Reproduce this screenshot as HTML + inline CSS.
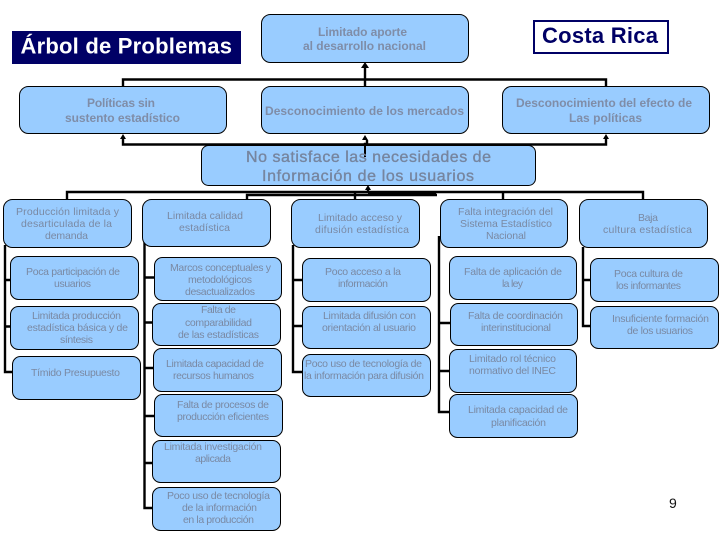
<!DOCTYPE html>
<html><head><meta charset="utf-8"><style>
html,body{margin:0;padding:0;background:#fff;width:720px;height:540px;overflow:hidden}
svg{display:block}
text{font-family:"Liberation Sans",sans-serif}
.s{font-size:10.5px;fill:#7a89a3}
.m{font-size:12px;font-weight:bold;fill:#7f8da8}
.l{font-size:16px;fill:#76859f;stroke:#76859f;stroke-width:.35}
.b rect{fill:#99ccff;stroke:#000;stroke-width:1}
.w path{fill:none;stroke:#000;stroke-width:2.4}
</style></head><body>
<svg width="720" height="540" viewBox="0 0 720 540" xmlns="http://www.w3.org/2000/svg">
<rect x="12" y="31" width="229" height="33" fill="#000066"/>
<text x="20.5" y="53.500" font-size="22" font-weight="bold" fill="#fff" textLength="211.5" lengthAdjust="spacing">Árbol de Problemas</text>
<rect x="534" y="21" width="134" height="32" fill="#fff" stroke="#000066" stroke-width="2"/>
<text x="542" y="43" font-size="22" font-weight="bold" fill="#000066" textLength="116" lengthAdjust="spacing">Costa Rica</text>

<g class="w">
<path d="M123 86V79.5H606V86"/>
<path d="M365 86V66" stroke-width="3"/>
<path d="M123 137V144.5H606V137"/>
<path d="M365 157V144H367V140"/>
<path d="M67 199V192H643V199"/>
<path d="M247 199V195H437"/>
<path d="M355 199V192"/>
<path d="M503 199V192"/>
<path d="M368 192V188"/>
<path d="M368 194H436" stroke-width="3.500"/>
<path d="M5 245V372H12M5 280H10M5 326.5H10"/>
<path d="M144.500 240V508H152M144.500 277.500H154M144.500 322.500H152M144.500 368H153M144.500 416H154M144.500 463H152"/>
<path d="M293 245V372H303M293 280H302M293 326H302"/>
<path d="M439 236V412H449M439 323H450M439 371H449"/>
<path d="M583 247V326H590M583 280H590"/>
</g>
<g fill="#000">
<path d="M365 62L361 68H369Z"/>
<path d="M123 134L120 139H126Z"/>
<path d="M365 135L362 140H368Z"/>
<path d="M606 134L603 139H609Z"/>
<path d="M368 185L365 190H371Z"/>
</g>

<g class="b">
<rect x="261.500" y="14.500" width="207" height="48" rx="9"/>
<rect x="19.500" y="86.500" width="207" height="47" rx="9"/>
<rect x="261.500" y="86.500" width="207" height="47" rx="9"/>
<rect x="502.500" y="86.500" width="207" height="47" rx="9"/>
<rect x="201.500" y="145.500" width="334" height="40" rx="7"/>
<rect x="3.500" y="199.500" width="128" height="48" rx="9"/>
<rect x="10.500" y="256.500" width="128" height="43" rx="8"/>
<rect x="10.500" y="306.500" width="128" height="43" rx="8"/>
<rect x="12.500" y="356.500" width="128" height="43" rx="8"/>
<rect x="142.500" y="199.500" width="128" height="47" rx="9"/>
<rect x="154.500" y="257.500" width="127" height="43" rx="8"/>
<rect x="152.500" y="303.500" width="128" height="42" rx="8"/>
<rect x="153.500" y="348.500" width="128" height="43" rx="8"/>
<rect x="154.500" y="394.500" width="128" height="42" rx="8"/>
<rect x="152.500" y="440.500" width="128" height="42" rx="8"/>
<rect x="152.500" y="487.500" width="128" height="43" rx="8"/>
<rect x="291.500" y="199.500" width="128" height="48" rx="9"/>
<rect x="302.500" y="258.500" width="128" height="43" rx="8"/>
<rect x="302.500" y="306.500" width="128" height="42" rx="8"/>
<rect x="302.500" y="354.500" width="128" height="42" rx="8"/>
<rect x="440.500" y="199.500" width="127" height="48" rx="9"/>
<rect x="449.500" y="256.500" width="127" height="43" rx="8"/>
<rect x="450.500" y="303.500" width="127" height="42" rx="8"/>
<rect x="449.500" y="349.500" width="127" height="43" rx="8"/>
<rect x="449.500" y="394.500" width="128" height="43" rx="8"/>
<rect x="579.500" y="199.500" width="128" height="48" rx="9"/>
<rect x="590.500" y="258.500" width="128" height="43" rx="8"/>
<rect x="590.500" y="306.500" width="128" height="42" rx="8"/>
</g>
<path d="M365 157V146" stroke="#000" stroke-width="2"/>

<g>
<text class="m" x="318" y="36" textLength="89">Limitado aporte</text>
<text class="m" x="303" y="50" textLength="123">al desarrollo nacional</text>
<text class="m" x="87" y="107" textLength="68">Políticas sin</text>
<text class="m" x="65" y="122" textLength="115">sustento estadístico</text>
<text class="m" x="265" y="115" textLength="199">Desconocimiento de los mercados</text>
<text class="m" x="516" y="107" textLength="176">Desconocimiento del efecto de</text>
<text class="m" x="569" y="122" textLength="73">Las políticas</text>
<text class="l" x="246" y="162" textLength="245">No satisface las necesidades de</text>
<text class="l" x="262" y="181" textLength="212">Información de los usuarios</text>

<text class="s" x="16" y="215" textLength="103">Producción limitada y</text>
<text class="s" x="21" y="227" textLength="91">desarticulada de la</text>
<text class="s" x="45" y="239" textLength="43">demanda</text>
<text class="s" x="26" y="275" textLength="94">Poca participación de</text>
<text class="s" x="54" y="287" textLength="37">usuarios</text>
<text class="s" x="32" y="319" textLength="89">Limitada producción</text>
<text class="s" x="27" y="331" textLength="101">estadística básica y de</text>
<text class="s" x="60" y="343" textLength="33">síntesis</text>
<text class="s" x="31" y="376" textLength="89">Tímido Presupuesto</text>

<text class="s" x="167" y="219" textLength="76">Limitada calidad</text>
<text class="s" x="179" y="231" textLength="51">estadística</text>
<text class="s" x="170" y="271" textLength="101">Marcos conceptuales y</text>
<text class="s" x="188" y="283" textLength="64">metodológicos</text>
<text class="s" x="185" y="295" textLength="70">desactualizados</text>
<text class="s" x="201" y="313" textLength="35">Falta de</text>
<text class="s" x="185" y="326" textLength="67">comparabilidad</text>
<text class="s" x="178" y="338" textLength="81">de las estadísticas</text>
<text class="s" x="166" y="367" textLength="98">Limitada capacidad de</text>
<text class="s" x="173" y="379" textLength="81">recursos humanos</text>
<text class="s" x="177" y="408" textLength="92">Falta de procesos de</text>
<text class="s" x="177" y="420" textLength="92">producción eficientes</text>
<text class="s" x="164" y="450" textLength="98">Limitada investigación</text>
<text class="s" x="195" y="462" textLength="36">aplicada</text>
<text class="s" x="167" y="499" textLength="103">Poco uso de tecnología</text>
<text class="s" x="182" y="511" textLength="75">de la información</text>
<text class="s" x="183" y="523" textLength="71">en la producción</text>

<text class="s" x="318" y="221" textLength="84">Limitado acceso y</text>
<text class="s" x="315" y="233" textLength="94">difusión estadística</text>
<text class="s" x="325" y="275" textLength="76">Poco acceso a la</text>
<text class="s" x="338" y="287" textLength="50">información</text>
<text class="s" x="323" y="319" textLength="93">Limitada difusión con</text>
<text class="s" x="322" y="331" textLength="94">orientación al usuario</text>
<text class="s" x="305" y="367" textLength="117">Poco uso de tecnología de</text>
<text class="s" x="304" y="379" textLength="120">la información para difusión</text>

<text class="s" x="458" y="215" textLength="95">Falta integración del</text>
<text class="s" x="460" y="227" textLength="92">Sistema Estadístico</text>
<text class="s" x="486" y="239" textLength="40">Nacional</text>
<text class="s" x="464" y="275" textLength="98">Falta de aplicación de</text>
<text class="s" x="502" y="287" textLength="21">la ley</text>
<text class="s" x="468" y="319" textLength="95">Falta de coordinación</text>
<text class="s" x="481" y="331" textLength="70">interinstitucional</text>
<text class="s" x="469" y="362" textLength="87">Limitado rol técnico</text>
<text class="s" x="469" y="374" textLength="87">normativo del INEC</text>
<text class="s" x="468" y="413" textLength="100">Limitada capacidad de</text>
<text class="s" x="491" y="426" textLength="55">planificación</text>

<text class="s" x="638" y="221" textLength="20">Baja</text>
<text class="s" x="603" y="233" textLength="89">cultura estadística</text>
<text class="s" x="614" y="277" textLength="69">Poca cultura de</text>
<text class="s" x="616" y="289" textLength="65">los informantes</text>
<text class="s" x="612" y="322" textLength="97">Insuficiente formación</text>
<text class="s" x="627" y="334" textLength="66">de los usuarios</text>
<text x="669" y="508" font-size="14" fill="#111">9</text>
</g>
</svg>
</body></html>
